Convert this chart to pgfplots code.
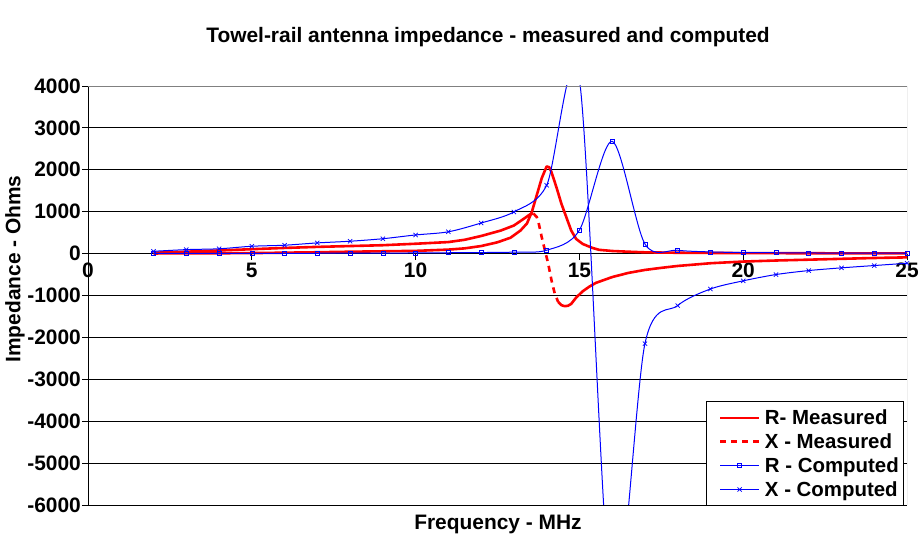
\documentclass[border=0pt]{standalone}
\usepackage{fontspec}
\setmainfont{Liberation Sans}
\usepackage{pgfplots}
\pgfplotsset{compat=1.18}

\definecolor{exred}{RGB}{255,0,0}
\definecolor{exblue}{RGB}{0,0,255}
\definecolor{framegray}{RGB}{128,128,128}

\begin{document}
\begin{tikzpicture}[x=1bp,y=1bp]
\path[use as bounding box] (0,0) rectangle (922,540);
\begin{axis}[
  at={(88bp,35bp)}, anchor=south west,
  scale only axis, width=819bp, height=419bp,
  xmin=0, xmax=25, ymin=-6000, ymax=4000,
  axis x line=middle, axis y line=left,
  axis line style={-, black, line width=0.8bp},
  xtick={0,5,...,25}, ytick={-6000,-5000,...,4000},
  tick align=outside, major tick length=6bp,
  tick style={black, line width=0.8bp},
  ymajorgrids, grid style={black, line width=0.8bp},
  /pgf/number format/assume math mode=true,
  /pgf/number format/set thousands separator={},
  tick label style={font=\fontsize{21}{24}\selectfont\bfseries},
  yticklabel style={inner xsep=1bp},
  legend style={
    at={(0.996,-0.002)}, anchor=south east,
    draw=black, line width=0.8bp, fill=white,
    font=\fontsize{20.5}{24}\selectfont\bfseries,
    row sep=4.6bp, column sep=3bp, inner xsep=3bp, inner ysep=6.3bp,
    nodes={inner sep=1.5bp},
  },
  legend cell align=left,
  legend image code/.code={%
    \path (0bp,0bp);
    \draw[mark repeat=2,mark phase=2,#1] plot coordinates {(9bp,0bp) (28.5bp,0bp) (48bp,0bp)};},
]

% measured resistance
\addplot[draw=exred, line width=2.6bp, line join=round] coordinates {
 (2,3) (3,6) (4,8) (5,12) (6,22) (7,32) (8,45) (9,55) (10,65) (11,95)
 (11.5,125) (12,180) (12.5,270) (12.9,380) (13.2,550) (13.4,720)
 (13.55,1000) (13.7,1400) (13.85,1800) (14.0,2080) (14.08,2060)
 (14.15,1940) (14.3,1580) (14.45,1190) (14.6,870) (14.75,550)
 (14.9,350) (15.1,230) (15.4,135) (15.6,90) (16,62) (16.5,45) (17,30)
 (18,20) (19,15) (20,12) (21,10) (22,8) (23,6) (24,5) (25,5)};
\addlegendentry{R- Measured}

% measured reactance: the slowly varying stretches show as solid strokes
\addplot[draw=exred, line width=2.6bp, line join=round, forget plot] coordinates {
 (2,20) (3,45) (4,75) (5,105) (6,135) (7,160) (8,180) (9,200) (10,235)
 (11,275) (11.5,330) (12,420) (12.6,550) (13.0,670) (13.3,830)
 (13.5,940) (13.6,955)};
\addplot[draw=exred, line width=2.6bp, dash pattern=on 6bp off 5bp] coordinates {
 (13.6,955) (13.7,870) (13.75,750) (13.85,390) (13.95,70) (14.05,-250)
 (14.15,-645) (14.25,-960) (14.35,-1150)};
\addlegendentry{X - Measured}
\addplot[draw=exred, line width=2.6bp, line join=round, forget plot] coordinates {
 (14.35,-1150) (14.45,-1230) (14.55,-1255) (14.65,-1245) (14.75,-1200)
 (14.9,-1050) (15.1,-900) (15.3,-790) (15.5,-700) (16.0,-560)
 (16.5,-460) (17,-390) (17.5,-340) (18,-295) (19,-230) (20,-190)
 (21,-165) (22,-145) (23,-125) (24,-105) (25,-90)};

% computed resistance
\addplot[exblue, line width=1bp, smooth, mark=square, mark size=2bp,
  mark options={solid, line width=0.6bp}, forget plot] coordinates {
 (2,5) (3,5) (4,5) (5,5) (6,5) (7,8) (8,10) (9,12) (10,15) (11,20)
 (12,25) (13,35) (14,80) (15,560) (16,2680) (17,230) (18,80) (19,40)
 (20,25) (21,20) (22,15) (23,12) (24,10) (25,8)};
\addlegendimage{exblue, line width=1.1bp, mark=square, mark size=2bp,
  mark options={solid, line width=0.6bp}}
\addlegendentry{R - Computed}

% computed reactance
\addplot[exblue, line width=1bp, smooth, mark=x, mark size=3bp,
  mark options={solid, line width=0.7bp}, forget plot] coordinates {
 (2,55) (3,95) (4,115) (5,175) (6,200) (7,255) (8,295) (9,355) (10,445)
 (11,520) (12,730) (13,995) (14,1630) (15,4150) (16,-8500) (17,-2150)
 (18,-1240) (19,-845) (20,-650) (21,-500) (22,-405) (23,-340)
 (24,-285) (25,-230)};
\addlegendimage{exblue, line width=1.1bp, mark=x, mark size=3bp,
  mark options={solid, line width=0.7bp}}
\addlegendentry{X - Computed}

% plot-area border on the three open sides
\draw[framegray, line width=0.8bp] (rel axis cs:0,1) -- (rel axis cs:1,1)
  -- (rel axis cs:1,0) -- (rel axis cs:0,0);
\coordinate (origin) at (axis cs:0,0);
\end{axis}

% frequency label at the origin, below the axis crossing
\node[anchor=north, inner sep=0pt, font=\fontsize{21}{24}\selectfont\bfseries]
  at (origin) [yshift=-9bp] {0};
\node[font=\fontsize{21}{24}\selectfont\bfseries] at (488,503)
  {Towel-rail antenna impedance - measured and computed};
\node[font=\fontsize{21}{24}\selectfont\bfseries, rotate=90] at (15,271)
  {Impedance - Ohms};
\node[font=\fontsize{21}{24}\selectfont\bfseries] at (498,16)
  {Frequency - MHz};
\end{tikzpicture}
\end{document}
